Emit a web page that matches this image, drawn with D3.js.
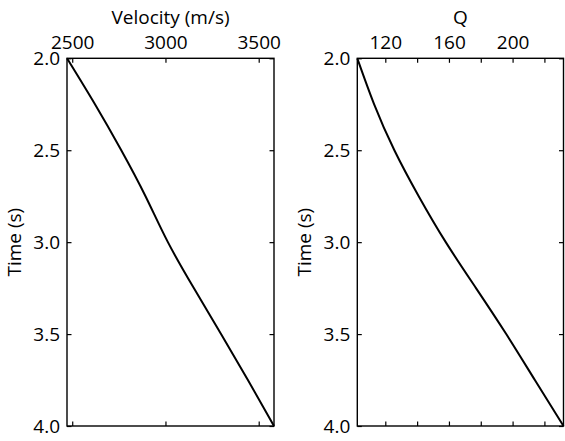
<!DOCTYPE html>
<html>
<head>
<meta charset="utf-8">
<script src="https://cdn.jsdelivr.net/npm/d3@7"></script>
<style>
  html, body { margin: 0; padding: 0; background: #fff; }
  svg { display: block; }
  text { font-family: "Open Sans", "Noto Sans", sans-serif; fill: #000; }
</style>
</head>
<body>
<svg id="chart" width="565" height="441"></svg>
<script>
// Two-way traveltime samples (s)
const time = [2.0, 2.25, 2.5, 2.75, 3.0, 3.25, 3.5, 3.75, 4.0];
// Interval velocity at each time sample (m/s)
const velocity = [2472, 2622, 2763, 2893, 3013, 3152, 3298, 3442, 3582];
// Quality factor at each time sample
const quality = [102.4, 113, 125.7, 141, 158, 177, 196, 214, 232];

const timeTicks = [2.0, 2.5, 3.0, 3.5, 4.0];
const velocityTicks = [2500, 3000, 3500];
const qualityTicks = [120, 140, 160, 180, 200, 220];
const qualityLabels = [120, 160, 200];

const svg = d3.select("#chart");
const plotTop = 58.3, plotBottom = 426;
const tickLen = 4.5;
const fontSize = 19;

const y = d3.scaleLinear().domain([2, 4]).range([plotTop, plotBottom]);

function panel(opts) {
  const x = d3.scaleLinear().domain(d3.extent(opts.values)).range([opts.left, opts.right]);
  const g = svg.append("g");

  const fmtX = d => (opts.labels.includes(d) ? String(d) : "");

  // top axis with labels
  g.append("g")
    .attr("transform", `translate(0,${plotTop})`)
    .call(d3.axisTop(x).tickValues(opts.ticks).tickFormat(fmtX)
      .tickSizeInner(-tickLen).tickSizeOuter(0).tickPadding(9))
    .call(a => a.select(".domain").remove());

  // bottom axis, ticks only
  g.append("g")
    .attr("transform", `translate(0,${plotBottom})`)
    .call(d3.axisBottom(x).tickValues(opts.ticks).tickFormat("")
      .tickSizeInner(-tickLen).tickSizeOuter(0))
    .call(a => a.select(".domain").remove());

  // left axis with labels
  g.append("g")
    .attr("transform", `translate(${opts.left},0)`)
    .call(d3.axisLeft(y).tickValues(timeTicks).tickFormat(d3.format(".1f"))
      .tickSizeInner(-tickLen).tickSizeOuter(0).tickPadding(7))
    .call(a => a.select(".domain").remove());

  // right axis, ticks only
  g.append("g")
    .attr("transform", `translate(${opts.right},0)`)
    .call(d3.axisRight(y).tickValues(timeTicks).tickFormat("")
      .tickSizeInner(-tickLen).tickSizeOuter(0))
    .call(a => a.select(".domain").remove());

  g.selectAll(".tick line").attr("stroke", "#000").attr("stroke-width", 1.2);
  g.selectAll(".tick text")
    .attr("font-size", fontSize)
    .attr("font-family", "'Open Sans', 'Noto Sans', sans-serif")
    .attr("fill", "#000");

  // frame
  g.append("rect")
    .attr("x", opts.left).attr("y", plotTop)
    .attr("width", opts.right - opts.left).attr("height", plotBottom - plotTop)
    .attr("fill", "none").attr("stroke", "#000").attr("stroke-width", 1.4);

  // curve
  const line = d3.line()
    .x((d, i) => x(opts.values[i]))
    .y(d => y(d))
    .curve(d3.curveNatural);
  g.append("path")
    .datum(time)
    .attr("d", line)
    .attr("fill", "none").attr("stroke", "#000").attr("stroke-width", 2);

  // titles
  g.append("text")
    .attr("x", (opts.left + opts.right) / 2).attr("y", 24.3)
    .attr("text-anchor", "middle").attr("font-size", fontSize)
    .text(opts.title);

  g.append("text")
    .attr("transform", `translate(${opts.left - 46},${(plotTop + plotBottom) / 2}) rotate(-90)`)
    .attr("text-anchor", "middle").attr("font-size", fontSize)
    .text("Time (s)");
}

panel({ values: velocity, left: 67, right: 274, ticks: velocityTicks,
        labels: velocityTicks, title: "Velocity (m/s)" });
panel({ values: quality, left: 357.3, right: 563.5, ticks: qualityTicks,
        labels: qualityLabels, title: "Q" });
</script>
</body>
</html>
